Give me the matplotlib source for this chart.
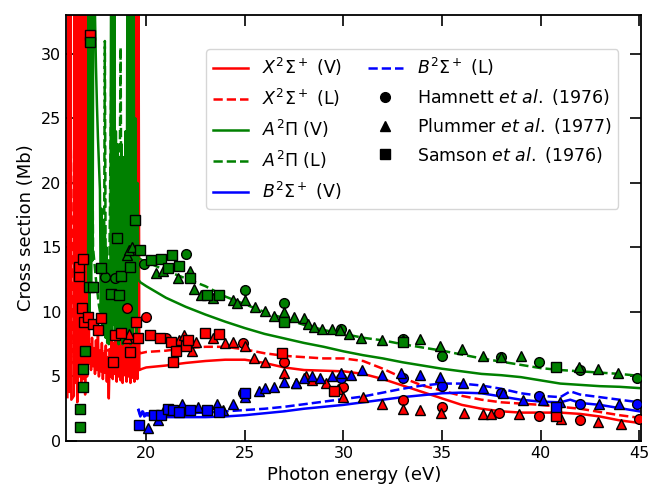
import matplotlib.pyplot as plt

# theory curves, photon energy (eV) and cross section (Mb)
# resonance region below ~19.7 eV, peaks above the plot top are given as 40
xv_e = [16.00, 16.05, 16.10, 16.15, 16.20, 16.33, 16.35, 16.40, 16.45, 16.50, 16.55, 16.60,
        16.65, 16.70, 16.75, 16.80, 16.85, 16.90, 16.95, 17.00, 17.05, 17.10, 17.15, 17.20,
        17.25, 17.30, 17.35, 17.40, 17.45, 17.50, 17.55, 17.60, 17.65, 17.70, 17.75, 17.80,
        17.85, 17.90, 17.95, 18.00, 18.05, 18.10, 18.15, 18.20, 18.25, 18.30, 18.35, 18.40,
        18.45, 18.50, 18.55, 18.60, 18.65, 18.70, 18.75, 18.80, 18.85, 18.90, 18.95, 19.00,
        19.05, 19.10, 19.15, 19.20, 19.25, 19.30, 19.35, 19.40, 19.45, 19.50, 19.55, 19.60,
        19.65, 19.80, 20, 21, 22, 23, 24, 25, 26, 27, 28, 29, 30, 31, 32, 33, 34, 35, 36, 37,
        38, 39, 40, 41, 42, 43, 44, 45]
xv_s = [3.4, 40, 3.8, 40, 3.2, 3.5, 40, 4.5, 40, 3.0, 40, 5.0,
        40, 4.0, 40, 4.8, 40, 3.6, 40, 5.0, 40, 6.0, 7.5, 5.5,
        8.0, 5.8, 7.2, 5.2, 7.8, 5.5, 8.2, 5.0, 7.0, 5.4, 7.6, 4.8,
        6.8, 5.3, 7.4, 4.6, 6.5, 3.3, 7.0, 5.0, 8.3, 4.8, 7.6, 5.2,
        8.0, 4.6, 7.8, 5.0, 8.4, 4.7, 7.5, 4.5, 8.2, 5.1, 7.9, 4.6,
        8.3, 5.0, 7.6, 4.5, 8.0, 4.9, 7.7, 4.6, 5.0, 40, 4.8, 40,
        5.5, 5.6, 5.7, 5.85, 6.05, 6.2, 6.3, 6.3, 6.05, 5.7, 5.5, 5.45, 5.4, 5.2, 4.8, 4.3, 3.8, 3.3, 2.8, 2.5,
        2.3, 2.2, 2.2, 2.2, 2.1, 1.9, 1.6, 1.4]

xl_e = [16.00, 16.10, 16.20, 16.50, 16.60, 16.90, 17.00, 17.30, 17.60, 18.00, 18.40, 18.80,
        19.20, 19.50, 19.55, 19.60, 19.70, 20, 21, 22, 23, 24, 25, 26, 27, 28, 29, 30, 31, 32,
        33, 34, 35, 36, 37, 38, 39, 40, 41, 42, 43, 44, 45]
xl_s = [5.0, 40, 6.0, 40, 6.5, 40, 7.0, 7.2, 6.8, 7.0, 7.3, 6.9,
        7.1, 40, 6.8, 7.0, 6.8, 6.9, 7.0, 7.2, 7.3, 7.3, 7.1, 6.8, 6.6, 6.5, 6.4, 6.4, 6.2, 5.6,
        4.9, 4.3, 3.9, 3.5, 3.2, 3.0, 2.9, 2.8, 2.65, 2.5, 2.25, 2.0, 1.8]

av_e = [17.05, 17.08, 17.12, 17.16, 17.20, 17.24, 17.28, 17.32, 17.36, 17.40, 17.45, 17.50,
        17.55, 17.60, 17.65, 17.70, 17.73, 17.78, 17.82, 17.86, 17.90, 17.94, 17.98, 18.02,
        18.06, 18.10, 18.14, 18.18, 18.22, 18.26, 18.30, 18.34, 18.38, 18.42, 18.46, 18.50,
        18.55, 18.60, 18.65, 18.70, 18.75, 18.80, 18.85, 18.90, 18.95, 19.00, 19.05, 19.10,
        19.15, 19.20, 19.25, 19.30, 19.35, 19.40, 19.45, 19.50, 19.55, 19.60, 19.70,
        20, 21, 22, 23, 24, 25, 26, 27, 28, 29, 30, 31, 32, 33, 34, 35, 36, 37, 38, 39, 40,
        41, 42, 43, 44, 45]
av_s = [12, 40, 10, 40, 12, 40, 14, 40, 40, 33, 29, 26,
        23.5, 21.5, 19.5, 10, 18, 9, 17, 8.5, 16, 8, 15, 7.6,
        14, 7.5, 13, 8, 40, 8, 40, 9, 40, 8, 24, 8,
        23, 7.5, 22, 8, 23, 7.5, 22, 8, 24, 7.6, 40, 8,
        40, 7.5, 40, 8, 40, 9, 25, 8, 20, 12.5, 12.3,
        12.0, 11.1, 10.4, 9.8, 9.25, 8.75, 8.3, 7.95, 7.6, 7.3, 6.95, 6.65, 6.4, 6.1, 5.85, 5.6,
        5.4, 5.2, 5.1, 4.95, 4.7, 4.45, 4.35, 4.25, 4.2, 4.1]

al_e = [17.05, 17.10, 17.20, 17.30, 17.45, 17.60, 17.75, 17.85, 17.90, 17.95, 18.10, 18.30,
        18.35, 18.60, 18.70, 18.75, 19.00, 19.10, 19.20, 19.30, 19.40, 19.60, 19.80,
        20, 21, 22, 23, 24, 25, 26, 27, 28, 29, 30, 31, 32, 33, 34, 35, 36, 37, 38, 39, 40,
        41, 42, 43, 44, 45]
al_s = [40, 17, 40, 15, 12.5, 10.5, 9.2, 9.0, 31, 9.0, 9.0, 40,
        9.5, 9.5, 30.5, 10, 10, 40, 12, 40, 13.5, 14.2, 14.0,
        13.9, 13.2, 12.6, 12.0, 11.2, 10.6, 10.0, 9.5, 9.0, 8.6, 8.3, 8.0, 7.8, 7.5, 7.25, 7.0,
        6.7, 6.4, 6.15, 5.9, 5.65, 5.5, 5.4, 5.3, 5.2, 5.05]

bv_e = [19.6, 19.7, 19.8, 19.9, 20, 21, 22, 23, 24, 25, 26, 27, 28, 29, 30, 31, 32, 33, 34,
        35, 36, 37, 38, 39, 40, 41, 41.5, 42, 43, 44, 45]
bv_s = [2.4, 1.9, 2.3, 1.9, 2.0, 1.85, 1.85, 1.85, 1.9, 2.0, 2.15, 2.3, 2.5, 2.65, 2.8, 3.0,
        3.2, 3.4, 3.55, 3.7, 3.75, 3.7, 3.45, 3.2, 3.05, 3.0, 3.2, 2.95, 2.8, 2.55, 2.3]

bl_e = [19.6, 19.7, 19.8, 19.9, 20, 21, 22, 23, 24, 25, 26, 27, 28, 29, 30, 31, 32, 33, 34,
        35, 36, 37, 38, 39, 40, 41, 41.5, 42, 43, 44, 45]
bl_s = [2.5, 2.0, 2.4, 2.05, 2.15, 2.1, 2.15, 2.2, 2.3, 2.4, 2.5, 2.65, 2.85, 3.05, 3.25,
        3.45, 3.75, 4.05, 4.3, 4.45, 4.45, 4.3, 4.05, 3.7, 3.5, 3.4, 3.85, 3.6, 3.4, 3.2, 3.0]

# experiment: Hamnett et al. (circles)
ham_x_e = [19.0, 20.0, 21.0, 24.9, 27.0, 30.0, 33.0, 35.0, 37.9, 39.9, 42.0, 45.0]
ham_x_s = [10.3, 9.6, 8.0, 7.6, 6.1, 4.2, 3.2, 2.6, 2.2, 1.95, 1.6, 1.7]
ham_a_e = [17.9, 18.4, 19.9, 22.0, 25.0, 27.0, 29.9, 33.0, 35.0, 38.0, 39.9, 42.0, 44.9]
ham_a_s = [12.7, 12.6, 13.7, 14.5, 11.7, 10.7, 8.7, 7.9, 6.6, 6.5, 6.1, 5.5, 4.9]
ham_b_e = [24.9, 29.9, 33.0, 35.0, 38.0, 39.9, 42.0, 44.9]
ham_b_s = [3.7, 4.9, 4.85, 4.3, 3.7, 3.5, 2.9, 2.9]

# Plummer et al. (triangles)
plu_x_e = [19.0, 19.1, 21.66, 21.9, 22.3, 22.5, 23.4, 24.0, 24.4, 25.0, 25.45, 26.0, 27.0,
           27.6, 28.1, 28.4, 29.1, 29.7, 30.0, 31.0, 31.96, 33.0, 33.9, 34.94, 36.1, 37.06,
           37.5, 38.9, 41.05, 42.9, 44.1]
plu_x_s = [8.0, 8.3, 7.8, 8.2, 7.0, 7.7, 8.0, 7.6, 7.7, 7.4, 6.4, 6.1, 5.3,
           4.5, 5.0, 4.7, 4.5, 4.0, 3.4, 3.4, 2.9, 2.5, 2.4, 2.15, 2.15, 2.1,
           2.1, 2.1, 1.7, 1.45, 1.3]
plu_a_e = [19.0, 19.1, 19.3, 20.5, 20.85, 21.6, 22.2, 22.4, 22.8, 23.4, 24.4, 24.6, 25.0,
           25.5, 26.0, 26.5, 27.0, 27.5, 28.0, 28.2, 28.5, 28.9, 29.4, 29.8, 30.3, 30.9,
           31.95, 33.0, 33.9, 34.9, 36.0, 37.06, 38.0, 39.0, 41.96, 42.9, 43.9]
plu_a_s = [14.4, 14.8, 15.0, 13.0, 13.2, 12.6, 13.2, 11.8, 11.3, 11.1, 10.9, 10.7, 10.9,
           10.4, 10.1, 9.7, 10.0, 9.6, 9.5, 9.1, 8.8, 8.7, 8.7, 8.6, 8.3, 8.0,
           7.8, 7.8, 7.9, 7.4, 7.1, 6.6, 6.5, 6.6, 5.7, 5.6, 5.25]
plu_b_e = [20.1, 20.6, 20.9, 21.8, 22.6, 23.6, 23.9, 24.4, 25.0, 25.7, 26.0, 26.5, 27.0,
           27.6, 28.0, 28.4, 28.8, 29.4, 29.9, 30.4, 30.95, 31.96, 32.9, 33.9, 34.9, 36.05,
           37.06, 38.1, 39.1, 40.1, 41.0, 42.97, 43.98]
plu_b_s = [1.0, 1.6, 2.4, 2.9, 2.6, 2.9, 2.4, 2.9, 3.4, 3.9, 4.1, 4.2, 4.6,
           4.5, 4.85, 5.0, 4.9, 5.0, 5.3, 5.1, 5.5, 5.1, 5.3, 5.1, 4.95, 4.5,
           4.1, 3.7, 3.2, 3.2, 3.0, 2.9, 2.9]

# Samson et al. (squares)
sam_x_e = [16.6, 16.6, 16.8, 16.74, 16.86, 17.04, 17.13, 17.3, 17.55, 17.7, 18.3, 18.4, 18.7,
           19.2, 19.5, 19.6, 20.2, 20.7, 21.25, 21.35, 21.5, 22.0, 22.1, 23.0, 23.7, 26.9,
           29.5, 40.8]
sam_x_s = [12.8, 13.5, 14.1, 10.3, 9.2, 9.6, 31.5, 9.1, 8.6, 9.5, 6.1, 8.2, 8.4,
           6.9, 9.2, 8.0, 8.2, 8.0, 7.7, 6.1, 7.0, 7.4, 7.8, 8.4, 8.3, 6.8,
           3.9, 1.95]
sam_a_e = [16.62, 16.62, 16.79, 16.79, 16.91, 17.13, 17.1, 17.3, 17.7, 18.2, 18.5, 18.6, 18.7,
           19.2, 19.43, 19.7, 20.24, 20.75, 21.1, 21.3, 21.67, 22.2, 23.1, 23.7, 27.0, 33.0,
           40.8]
sam_a_s = [1.1, 2.5, 4.15, 5.6, 7.0, 30.9, 11.9, 11.9, 13.4, 11.4, 15.7, 11.3, 12.8,
           13.5, 17.1, 14.8, 14.0, 14.1, 13.4, 14.4, 13.6, 12.6, 11.3, 11.3, 9.2, 7.7,
           5.7]
sam_b_e = [19.65, 20.4, 20.75, 21.1, 21.35, 21.66, 22.2, 23.1, 23.7, 25.0, 40.8]
sam_b_s = [1.25, 2.0, 2.0, 2.5, 2.4, 2.25, 2.4, 2.4, 2.25, 3.7, 2.6]

plt.rcParams['font.family'] = 'DejaVu Sans'
fig = plt.figure(figsize=(6.49, 4.9), dpi=100)
ax = fig.add_axes([0.102, 0.100, 0.886, 0.869])

lw = 1.8
ax.plot(xv_e, xv_s, color='red', lw=lw, label=r'$X^2\Sigma^+$ (V)', zorder=2)
ax.plot(xl_e, xl_s, color='red', lw=lw, ls='--', label=r'$X^2\Sigma^+$ (L)', zorder=2)
ax.plot(av_e, av_s, color='green', lw=lw, label=r'$A^2\Pi$ (V)', zorder=2)
ax.plot(al_e, al_s, color='green', lw=lw, ls='--', label=r'$A^2\Pi$ (L)', zorder=2)
ax.plot(bv_e, bv_s, color='blue', lw=lw, label=r'$B^2\Sigma^+$ (V)', zorder=2)
ax.plot(bl_e, bl_s, color='blue', lw=lw, ls='--', label=r'$B^2\Sigma^+$ (L)', zorder=2)

ms = 7
pts = [
    ('o', ham_x_e, ham_x_s, 'red'), ('o', ham_a_e, ham_a_s, 'green'), ('o', ham_b_e, ham_b_s, 'blue'),
    ('^', plu_x_e, plu_x_s, 'red'), ('^', plu_a_e, plu_a_s, 'green'), ('^', plu_b_e, plu_b_s, 'blue'),
    ('s', sam_x_e, sam_x_s, 'red'), ('s', sam_a_e, sam_a_s, 'green'), ('s', sam_b_e, sam_b_s, 'blue'),
]
for m, xe, ys, c in pts:
    ax.plot(xe, ys, ls='none', marker=m, ms=ms, mfc=c, mec='black', mew=1.0, zorder=3)

ax.plot([], [], 'ko', ms=ms, ls='none', label=r'Hamnett $et\ al.$ (1976)')
ax.plot([], [], 'k^', ms=ms, ls='none', label=r'Plummer $et\ al.$ (1977)')
ax.plot([], [], 'ks', ms=ms, ls='none', label=r'Samson $et\ al.$ (1976)')

ax.set_xlim(15.94, 45.1)
ax.set_ylim(0, 33)
ax.set_xticks([20, 25, 30, 35, 40, 45])
ax.set_yticks([0, 5, 10, 15, 20, 25, 30])
ax.tick_params(direction='in', top=True, right=True, length=8, width=1.2, labelsize=11.5)
for s in ax.spines.values():
    s.set_linewidth(1.3)
ax.set_xlabel('Photon energy (eV)', fontsize=13)
ax.set_ylabel('Cross section (Mb)', fontsize=13)
ax.legend(ncol=2, loc='upper right', bbox_to_anchor=(0.975, 0.94), fontsize=12.5,
          handlelength=2.0, columnspacing=1.5)

fig.savefig('out.png', dpi=100)
